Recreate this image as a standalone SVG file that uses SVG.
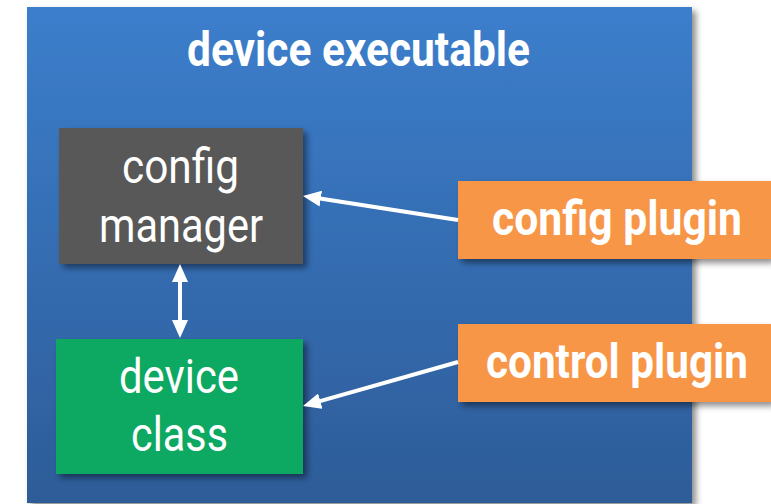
<svg xmlns="http://www.w3.org/2000/svg" width="771" height="504" viewBox="0 0 771 504">
<defs>
<linearGradient id="bg" x1="0" y1="0" x2="0" y2="1">
<stop offset="0" stop-color="#3c7ecc"/>
<stop offset="1" stop-color="#2d5c98"/>
</linearGradient>
<filter id="sh" x="-10%" y="-10%" width="130%" height="130%">
<feDropShadow dx="4" dy="4" stdDeviation="3" flood-color="#000" flood-opacity="0.45"/>
</filter>
<marker id="ah" viewBox="0 0 18 16" refX="4" refY="8" markerWidth="18" markerHeight="16" markerUnits="userSpaceOnUse" orient="auto-start-reverse">
<path d="M0,0 L18,8 L0,16 Z" fill="#fff"/>
</marker>
</defs>
<style>
.t{font-family:Roboto,"Liberation Sans",sans-serif;fill:#fff}
.b{font-weight:700;font-size:48px}
.l{font-weight:400;font-size:48px}
.c{stroke:#fff;stroke-width:4;fill:none;marker-end:url(#ah)}
</style>
<rect x="0" y="0" width="771" height="504" fill="#fff"/>
<g id="device-executable">
<rect x="27" y="7" width="665" height="496" fill="url(#bg)" filter="url(#sh)"/>
<text class="t b" x="187" y="66" textLength="343" lengthAdjust="spacingAndGlyphs">device executable</text>
</g>
<g id="config-manager">
<rect x="59" y="128" width="244" height="136" fill="#595959" filter="url(#sh)"/>
<text class="t l" x="122" y="183" textLength="117" lengthAdjust="spacingAndGlyphs">config</text>
<text class="t l" x="99" y="242" textLength="164" lengthAdjust="spacingAndGlyphs">manager</text>
</g>
<g id="device-class">
<rect x="56" y="339" width="247" height="135" fill="#0fa862" filter="url(#sh)"/>
<text class="t l" x="119" y="393" textLength="120" lengthAdjust="spacingAndGlyphs">device</text>
<text class="t l" x="131" y="451" textLength="97" lengthAdjust="spacingAndGlyphs">class</text>
</g>
<g id="config-plugin">
<rect x="458" y="181" width="313" height="78" fill="#f79647" filter="url(#sh)"/>
<text class="t b" x="492" y="235" textLength="250" lengthAdjust="spacingAndGlyphs">config plugin</text>
</g>
<g id="control-plugin">
<rect x="458" y="324" width="313" height="78" fill="#f79647" filter="url(#sh)"/>
<text class="t b" x="486" y="378" textLength="262" lengthAdjust="spacingAndGlyphs">control plugin</text>
</g>
<g id="connectors">
<line class="c" x1="458" y1="220" x2="316.8" y2="198.1"/>
<line class="c" x1="458" y1="362" x2="316.5" y2="402.2"/>
<line class="c" x1="180" y1="278" x2="180" y2="324" style="marker-start:url(#ah)"/>
</g>
</svg>
